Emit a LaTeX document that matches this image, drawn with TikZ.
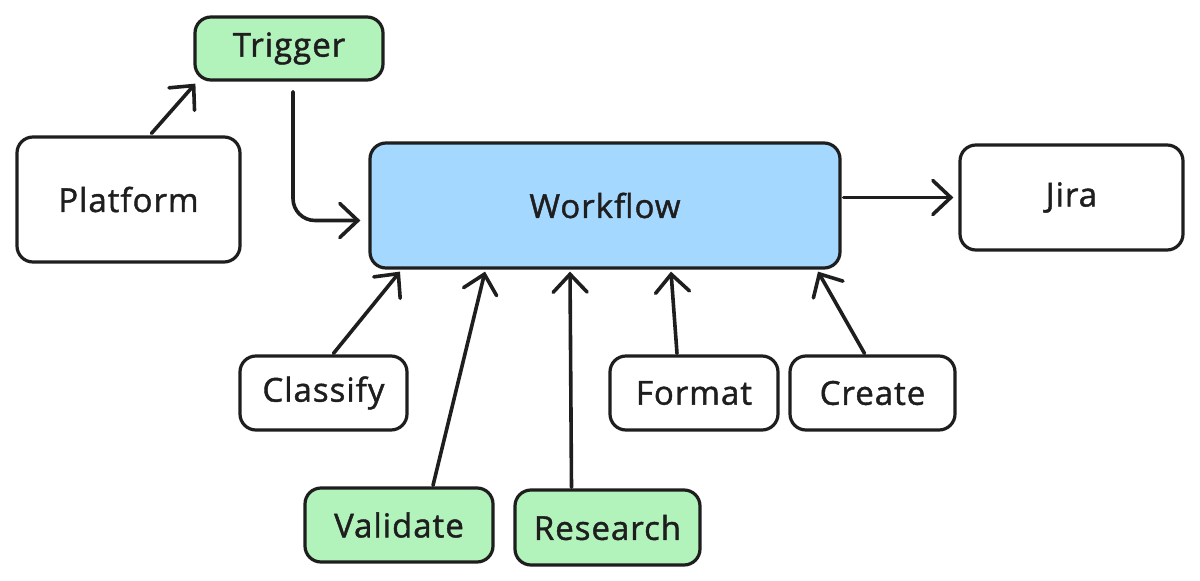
\documentclass[tikz,border=0pt]{standalone}
\usepackage{fontspec}
\setmainfont[FakeBold=1.3,LetterSpace=3]{Open Sans}
\usetikzlibrary{arrows.meta,calc}
\definecolor{ink}{HTML}{1E1E1E}
\definecolor{gfill}{HTML}{B2F2BB}
\definecolor{bfill}{HTML}{A5D8FF}
\tikzset{
  box/.style={draw=ink, line width=3.2pt, rounded corners=16pt, fill=white,
    inner sep=0pt, font=\fontsize{33}{38}\selectfont, text=ink},
  gbox/.style={box, fill=gfill},
  bbox/.style={box, fill=bfill},
  conn/.style={draw=ink, line width=3.6pt, line cap=round,
    -{Straight Barb[length=18pt,width=34pt,line cap=round]}},
}
\begin{document}
\begin{tikzpicture}[x=1pt,y=-1pt]
\useasboundingbox (0,0) rectangle (1200,581);
\node[gbox, minimum width=188pt, minimum height=63pt] (trig) at (289,48.5) {Trigger};
\node[box, minimum width=223pt, minimum height=125pt] (plat) at (128.5,199.5) {Platform};
\node[bbox, minimum width=470pt, minimum height=125pt] (wf) at (605,205.5) {Workflow};
\node[box, minimum width=223pt, minimum height=105pt] (jira) at (1071.5,197.5) {Jira};
\node[box, minimum width=167pt, minimum height=74pt] (cls) at (323.5,393) {Classify};
\node[gbox, minimum width=188pt, minimum height=74pt] (val) at (399,525) {Validate};
\node[gbox, minimum width=185pt, minimum height=75pt] (res) at (607.5,527.5) {Research};
\node[box, minimum width=168pt, minimum height=74pt] (fmt) at (694,393) {Format};
\node[box, minimum width=165pt, minimum height=74pt] (crt) at (872.5,393) {Create};

\draw[conn] ([xshift=23pt,yshift=2pt]plat.north) -- ([xshift=2pt,yshift=-2pt]trig.south west);
\draw[conn, rounded corners=22pt] ([xshift=4pt,yshift=-10pt]trig.south) |- ([xshift=-8pt,yshift=-15pt]wf.west);
\draw[conn] ([xshift=2pt,yshift=8pt]wf.east) -- ([xshift=-5pt]jira.west);
\draw[conn] ([xshift=10pt,yshift=1pt]cls.north) -- ([xshift=-205pt,yshift=-2pt]wf.south);
\draw[conn] ([xshift=34pt,yshift=1pt]val.north) -- ([xshift=-120pt,yshift=-2pt]wf.south);
\draw[conn] ([xshift=-36pt,yshift=1pt]res.north) -- ([xshift=-35pt,yshift=-2pt]wf.south);
\draw[conn] ([xshift=-17pt,yshift=1pt]fmt.north) -- ([xshift=66pt,yshift=-2pt]wf.south);
\draw[conn] ([xshift=-8pt,yshift=1pt]crt.north) -- ([xshift=213pt,yshift=-2pt]wf.south);
\end{tikzpicture}
\end{document}
